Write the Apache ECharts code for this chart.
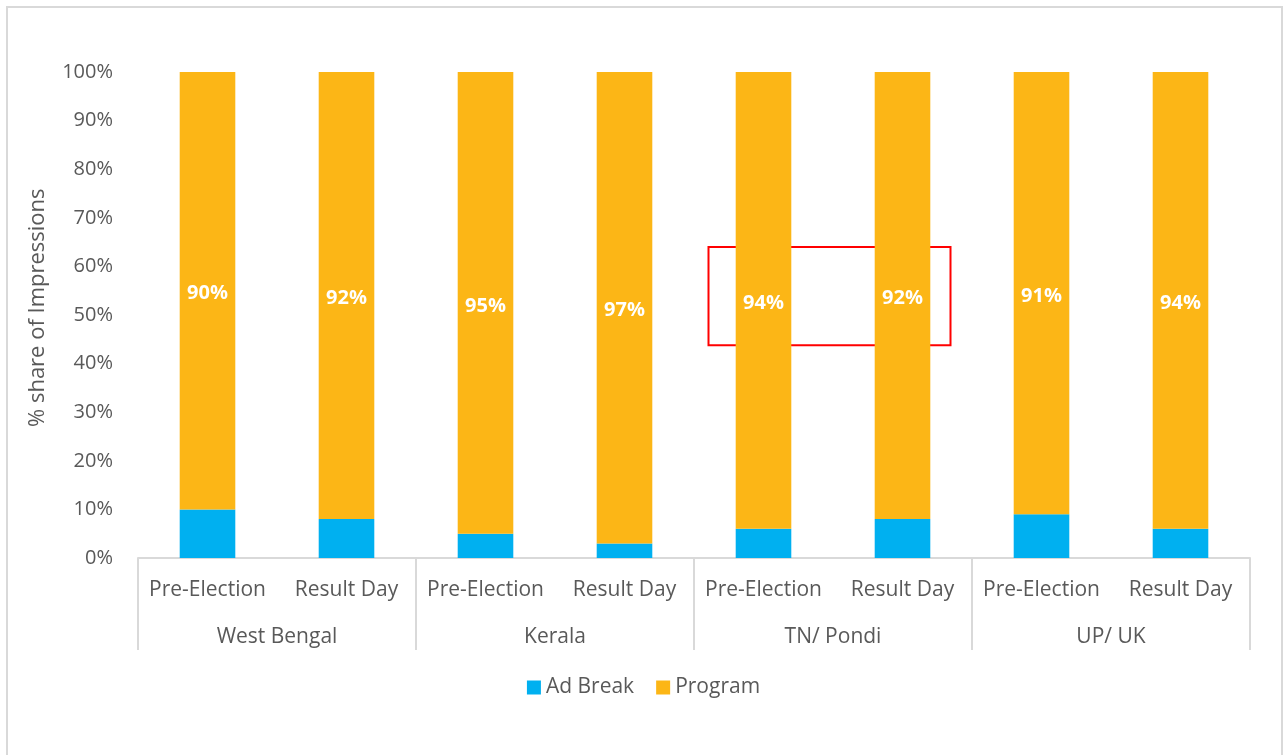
<!DOCTYPE html>
<html>
<head>
<meta charset="utf-8">
<script src="https://cdn.jsdelivr.net/npm/echarts@6/dist/echarts.min.js"></script>
<style>
html,body{margin:0;padding:0;background:#fff;}
#chart{width:1287px;height:755px;}
</style>
</head>
<body>
<div id="chart"></div>
<script>
var categories = ['Pre-Election','Result Day','Pre-Election','Result Day','Pre-Election','Result Day','Pre-Election','Result Day'];
var groups = ['West Bengal','Kerala','TN/ Pondi','UP/ UK'];
var adBreak = [10, 8, 5, 3, 6, 8, 9, 6];
var program = [90, 92, 95, 97, 94, 92, 91, 94];
var yTicks = [0,10,20,30,40,50,60,70,80,90,100];
var yTitle = '% share of Impressions';

var font = '"Open Sans", "Noto Sans", sans-serif';
var textColor = '#595959';
var chart = echarts.init(document.getElementById('chart'), null, {renderer:'canvas'});
var option = {
  animation:false,
  textStyle:{fontFamily:font},
  grid:{left:138,right:37,top:72,bottom:197,containLabel:false},
  legend:{
    bottom:52,left:'center',
    itemWidth:14,itemHeight:14,itemGap:22,icon:'rect',
    textStyle:{fontSize:21,color:textColor,fontFamily:font},
    data:['Ad Break','Program']
  },
  xAxis:[{
    type:'category',data:categories,position:'bottom',
    axisLine:{show:true,lineStyle:{color:'#d9d9d9',width:2}},
    axisTick:{show:false},
    axisLabel:{fontSize:21,color:textColor,margin:22,interval:0,fontFamily:font}
  },{
    type:'category',data:groups,position:'bottom',offset:0,
    axisLine:{show:false},
    axisTick:{show:true,length:92,interval:0,lineStyle:{color:'#d9d9d9',width:2}},
    axisLabel:{fontSize:21,color:textColor,margin:69,interval:0,fontFamily:font}
  }],
  yAxis:{
    type:'value',min:0,max:100,interval:10,
    axisLine:{show:false},axisTick:{show:false},splitLine:{show:false},
    axisLabel:{fontSize:20,color:textColor,margin:25,fontFamily:font,
      formatter:function(v){return yTicks.indexOf(v)>=0 ? v+'%' : '';}}
  },
  series:[{
    name:'Ad Break',type:'bar',stack:'s',data:adBreak,barWidth:'40%',
    itemStyle:{color:'#00B0F0'}
  },{
    name:'Program',type:'bar',stack:'s',data:program,barWidth:'40%',
    itemStyle:{color:'#FCB616'},
    label:{show:true,position:'inside',offset:[0,3],formatter:'{c}%',color:'#fff',fontWeight:'bold',fontSize:20,fontFamily:font}
  }]
};
chart.setOption(option);

var x4 = chart.convertToPixel({xAxisIndex:0}, 4);
var x5 = chart.convertToPixel({xAxisIndex:0}, 5);
var yTop = chart.convertToPixel({yAxisIndex:0}, 64);
var yBot = chart.convertToPixel({yAxisIndex:0}, 43.8);
var yMid = chart.convertToPixel({yAxisIndex:0}, 51.5);
chart.setOption({
  graphic:[{
    type:'rect',silent:true,
    shape:{x:7,y:7,width:1275,height:760},
    style:{fill:'none',stroke:'#d9d9d9',lineWidth:2}
  },{
    type:'rect',silent:true,
    shape:{x:x4-55,y:yTop,width:(x5+48)-(x4-55),height:yBot-yTop},
    style:{fill:'none',stroke:'#ff0000',lineWidth:2}
  },{
    type:'text',silent:true,
    x:38,y:yMid,rotation:Math.PI/2,
    style:{text:yTitle,fontSize:22,fill:textColor,fontFamily:font,align:'center',verticalAlign:'middle'}
  }]
});
</script>
</body>
</html>
